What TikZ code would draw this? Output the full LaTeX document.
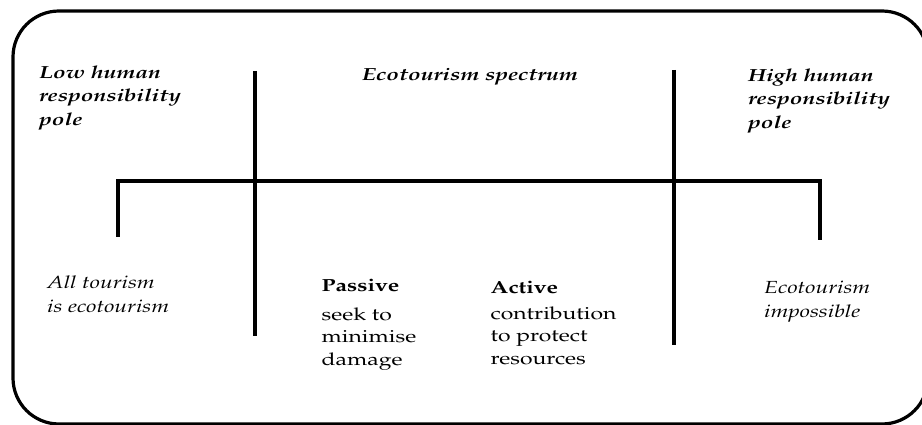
\documentclass[tikz,border=0pt]{standalone}
\usepackage[T1]{fontenc}
\usepackage{mathpazo}
\usepackage{graphicx}
\newcommand{\txw}[1]{\scalebox{1.31}[1]{\begin{tabular}[t]{@{}l@{}}#1\end{tabular}}}
\begin{document}
\begin{tikzpicture}[x=1pt,y=-1pt,
  bar/.style={line width=3.2pt},
  lbl/.style={inner sep=0pt,anchor=base west},
  bi/.style={lbl,font=\fontsize{17.5}{23.5}\selectfont\bfseries\itshape},
  it/.style={lbl,font=\fontsize{17.5}{23.5}\selectfont\itshape},
  bo/.style={lbl,font=\fontsize{17.5}{23}\selectfont\bfseries},
  up/.style={lbl,font=\fontsize{17.5}{22.8}\selectfont}]
\useasboundingbox (0,0) rectangle (922,425);
\begin{scope}
\clip (0,0) rectangle (922,425);
\draw[bar,rounded corners=46pt] (13,11) rectangle (928,424);
\end{scope}
% connectors
\coordinate (v1t) at (255,71);
\coordinate (v1b) at (255,336);
\coordinate (v2t) at (674,70);
\coordinate (v2b) at (674,345);
\coordinate (hl) at (118,181);
\coordinate (hr) at (820,181);
\coordinate (dl) at (118,237);
\coordinate (dr) at (820,240);
\draw[bar] (v1t) -- (v1b);
\draw[bar] (v2t) -- (v2b);
\draw[bar] (dl) -- (hl) -- (hr) -- (dr);
% texts
\node[bi] (low) at (39,78.5) {\txw{Low human\\responsibility\\pole}};
\node[bi] (spec) at (362,80.5) {\txw{Ecotourism spectrum}};
\node[bi] (high) at (748,81.5) {\txw{High human\\responsibility\\pole}};
\node[it] (all) at (47,288.7) {\txw{All tourism\\is ecotourism}};
\node[bo] (pas) at (321.5,291.5) {\txw{Passive}};
\node[up] (pasd) at (321.5,320) {\txw{seek to\\minimise\\damage}};
\node[bo] (act) at (490.5,294) {\txw{Active}};
\node[up] (actd) at (490.5,319) {\txw{contribution\\to protect\\resources}};
\node[it] (imp) at (764,293.7) {\txw{Ecotourism\\impossible}};
\end{tikzpicture}
\end{document}
